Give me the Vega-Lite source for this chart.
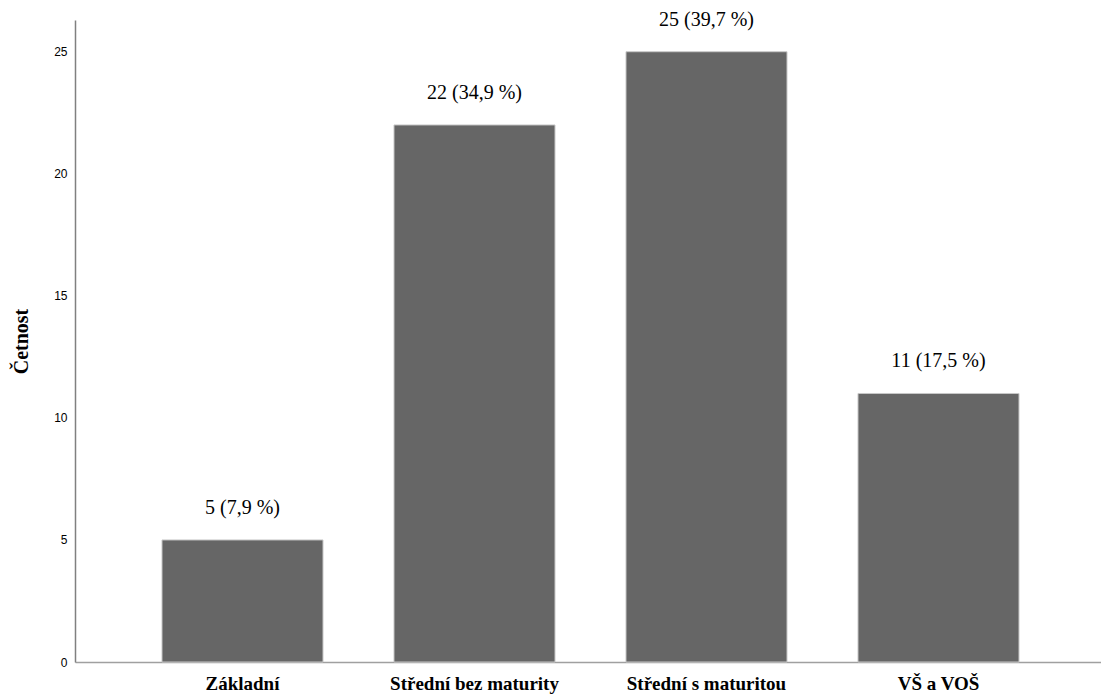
{
  "$schema": "https://vega.github.io/schema/vega-lite/v6.json",
  "width": 1031,
  "height": 642,
  "autosize": {"type": "none"},
  "padding": {"left": 75, "top": 20, "right": 0, "bottom": 33},
  "background": "white",
  "config": {"view": {"stroke": null}},
  "data": {
    "values": [
      {"kategorie": "Základní", "cetnost": 5, "popis": "5 (7,9 %)"},
      {"kategorie": "Střední bez maturity", "cetnost": 22, "popis": "22 (34,9 %)"},
      {"kategorie": "Střední s maturitou", "cetnost": 25, "popis": "25 (39,7 %)"},
      {"kategorie": "VŠ a VOŠ", "cetnost": 11, "popis": "11 (17,5 %)"}
    ]
  },
  "encoding": {
    "x": {
      "field": "kategorie",
      "type": "nominal",
      "sort": null,
      "scale": {"paddingInner": 0.306, "paddingOuter": 0.375},
      "axis": {
        "title": null,
        "labelAngle": 0,
        "ticks": false,
        "domainColor": "#a0a0a0",
        "domainWidth": 1.5,
        "labelFont": "Liberation Serif",
        "labelFontWeight": "bold",
        "labelFontSize": 19,
        "labelColor": "#000000",
        "labelPadding": 12
      }
    },
    "y": {
      "field": "cetnost",
      "type": "quantitative",
      "scale": {"domain": [0, 26.3], "nice": false},
      "axis": {
        "title": "Četnost",
        "values": [0, 5, 10, 15, 20, 25],
        "grid": false,
        "ticks": false,
        "domainColor": "#808080",
        "domainWidth": 1.5,
        "labelFont": "Liberation Sans",
        "labelFontSize": 12,
        "labelColor": "#000000",
        "labelPadding": 8,
        "titleFont": "Liberation Serif",
        "titleFontWeight": "bold",
        "titleFontSize": 20,
        "titleColor": "#000000",
        "titlePadding": 22
      }
    }
  },
  "layer": [
    {
      "mark": {"type": "bar", "color": "#666666", "stroke": "#c8c8c8", "strokeWidth": 1}
    },
    {
      "mark": {"type": "text", "baseline": "middle", "dy": -32, "font": "Liberation Serif", "fontSize": 20, "color": "#000000"},
      "encoding": {"text": {"field": "popis"}}
    }
  ]
}
